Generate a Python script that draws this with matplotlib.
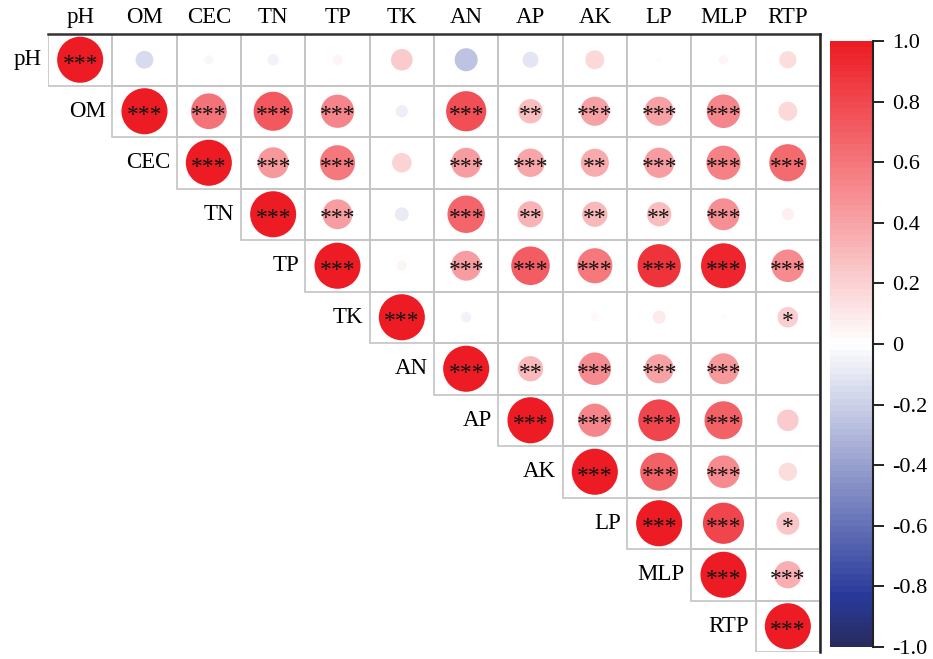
import numpy as np
import matplotlib
matplotlib.use("Agg")
import matplotlib.pyplot as plt
from matplotlib.colors import LinearSegmentedColormap, Normalize
from matplotlib.colorbar import ColorbarBase

plt.rcParams['font.family'] = ['Liberation Serif', 'DejaVu Serif']

labels = ['pH', 'OM', 'CEC', 'TN', 'TP', 'TK', 'AN', 'AP', 'AK', 'LP', 'MLP', 'RTP']

# upper triangle, row by row (starting at the diagonal)
corr_rows = [
    [1.00, -0.15, -0.04, -0.06, 0.05, 0.22, -0.25, -0.12, 0.17, -0.02, 0.04, 0.14],
    [1.00, 0.60, 0.72, 0.52, -0.07, 0.76, 0.28, 0.40, 0.40, 0.53, 0.17],
    [1.00, 0.45, 0.58, 0.18, 0.42, 0.38, 0.37, 0.43, 0.55, 0.65],
    [1.00, 0.42, -0.09, 0.66, 0.32, 0.30, 0.28, 0.48, 0.07],
    [1.00, 0.05, 0.42, 0.70, 0.58, 0.88, 0.95, 0.50],
    [1.00, -0.05, 0.00, 0.03, 0.08, -0.02, 0.20],
    [1.00, 0.30, 0.50, 0.40, 0.45, 0.00],
    [1.00, 0.52, 0.82, 0.68, 0.22],
    [1.00, 0.68, 0.50, 0.16],
    [1.00, 0.80, 0.25],
    [1.00, 0.35],
    [1.00],
]

sig_rows = [
    ['***', '', '', '', '', '', '', '', '', '', '', ''],
    ['***', '***', '***', '***', '', '***', '**', '***', '***', '***', ''],
    ['***', '***', '***', '', '***', '***', '**', '***', '***', '***'],
    ['***', '***', '', '***', '**', '**', '**', '***', ''],
    ['***', '', '***', '***', '***', '***', '***', '***'],
    ['***', '', '', '', '', '', '*'],
    ['***', '**', '***', '***', '***', ''],
    ['***', '***', '***', '***', ''],
    ['***', '***', '***', ''],
    ['***', '***', '*'],
    ['***', '***'],
    ['***'],
]

cmap = LinearSegmentedColormap.from_list(
    'rwb', [(0.0, '#282b60'), (0.08, '#28399a'), (0.5, '#ffffff'), (1.0, '#ed1c24')], N=100)
norm = Normalize(-1, 1)

n = len(labels)
fig = plt.figure(figsize=(9.33, 6.59), dpi=100)
ax = fig.add_axes([48 / 933, 7 / 659, 772 / 933, 618 / 659])
ax.set_xlim(0, n)
ax.set_ylim(n, 0)
ax.axis('off')

grid_c = '#c4c4c4'
xs, ys, vals = [], [], []
for i in range(n):
    for k, r in enumerate(corr_rows[i]):
        j = i + k
        ax.add_patch(plt.Rectangle((j, i), 1, 1, fill=False, edgecolor=grid_c, lw=1.2, zorder=1))
        xs.append(j + 0.5)
        ys.append(i + 0.5)
        vals.append(r)
        s = sig_rows[i][k]
        if s:
            ax.text(j + 0.5, i + 0.59, s, ha='center', va='center', fontsize=17, color='#111111', zorder=4)
    ax.text(i - 0.1, i + 0.5, labels[i], ha='right', va='center', fontsize=16.5)
    ax.text(i + 0.5, -0.12, labels[i], ha='center', va='bottom', fontsize=16.5, clip_on=False)

vals = np.array(vals)
ax.scatter(xs, ys, s=1100 * np.abs(vals), c=vals, cmap=cmap, norm=norm, edgecolors='none', zorder=3)

# dark frame on top and right
ax.plot([0, n], [0, 0], color='#333333', lw=1.8, zorder=5, clip_on=False)
ax.plot([n, n], [0, n], color='#222222', lw=1.8, zorder=5, clip_on=False)

cax = fig.add_axes([830 / 933, 12 / 659, 43 / 933, 606 / 659])
cb = ColorbarBase(cax, cmap=cmap, norm=norm, ticks=np.arange(-1, 1.01, 0.2))
cb.outline.set_visible(False)
cax.spines['right'].set_visible(True)
cax.spines['right'].set_color('#222222')
cax.spines['right'].set_linewidth(1.5)
cb.set_ticklabels(['-1.0', '-0.8', '-0.6', '-0.4', '-0.2', '0', '0.2', '0.4', '0.6', '0.8', '1.0'])
cax.tick_params(labelsize=16, length=8, width=1.2, pad=6)

fig.savefig('out.png', dpi=100)
